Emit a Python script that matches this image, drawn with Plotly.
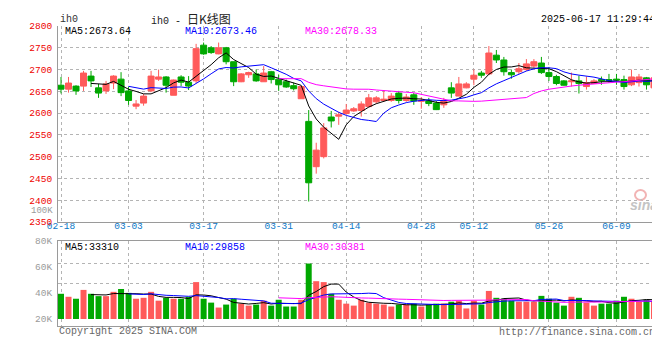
import plotly.graph_objects as go
import pandas as pd

# ---------------- data ----------------
DATES = [
    "02-18", "02-19", "02-20", "02-21", "02-24", "02-25", "02-26", "02-27", "02-28",
    "03-03", "03-04", "03-05", "03-06", "03-07", "03-10", "03-11", "03-12", "03-13", "03-14",
    "03-17", "03-18", "03-19", "03-20", "03-21", "03-24", "03-25", "03-26", "03-27", "03-28",
    "03-31", "04-01", "04-02", "04-03", "04-07", "04-08", "04-09", "04-10", "04-11",
    "04-14", "04-15", "04-16", "04-17", "04-18", "04-21", "04-22", "04-23", "04-24", "04-25",
    "04-28", "04-29", "04-30", "05-06", "05-07", "05-08", "05-09",
    "05-12", "05-13", "05-14", "05-15", "05-16", "05-19", "05-20", "05-21", "05-22", "05-23",
    "05-26", "05-27", "05-28", "05-29", "05-30", "06-03", "06-04", "06-05", "06-06",
    "06-09", "06-10", "06-11", "06-12", "06-13", "06-16",
]

OPEN = [2664, 2655, 2662, 2662, 2685, 2658, 2651, 2669, 2678, 2651,
        2616, 2623, 2651, 2678, 2683, 2641, 2683, 2671, 2674, 2756,
        2750, 2736, 2750, 2718, 2672, 2688, 2690, 2672, 2695, 2678,
        2672, 2663, 2633, 2581, 2477, 2500, 2591, 2593, 2599, 2605,
        2606, 2615, 2626, 2629, 2629, 2646, 2629, 2642, 2627, 2628,
        2623, 2619, 2658, 2639, 2658, 2678, 2692, 2690, 2733, 2722,
        2693, 2695, 2700, 2708, 2715, 2693, 2684, 2674, 2672, 2674,
        2661, 2668, 2677, 2677, 2678, 2677, 2665, 2670, 2681, 2658]
HIGH = [2683, 2683, 2664, 2697, 2697, 2667, 2674, 2687, 2694, 2660,
        2630, 2644, 2697, 2700, 2685, 2677, 2687, 2685, 2759, 2762,
        2754, 2762, 2752, 2718, 2692, 2695, 2700, 2708, 2697, 2688,
        2677, 2670, 2661, 2607, 2532, 2577, 2605, 2603, 2621, 2614,
        2627, 2644, 2639, 2653, 2646, 2651, 2644, 2646, 2637, 2635,
        2628, 2635, 2671, 2683, 2671, 2700, 2697, 2754, 2745, 2729,
        2700, 2715, 2724, 2724, 2729, 2706, 2688, 2676, 2693, 2686,
        2684, 2678, 2684, 2690, 2690, 2686, 2700, 2690, 2683, 2686]
LOW = [2645, 2647, 2642, 2651, 2660, 2635, 2644, 2655, 2639, 2619,
       2609, 2617, 2648, 2674, 2647, 2641, 2662, 2653, 2669, 2734,
       2736, 2735, 2712, 2662, 2671, 2681, 2672, 2672, 2668, 2651,
       2658, 2652, 2633, 2397, 2461, 2496, 2567, 2573, 2596, 2603,
       2592, 2613, 2622, 2626, 2626, 2622, 2626, 2619, 2610, 2616,
       2607, 2612, 2635, 2639, 2657, 2664, 2681, 2687, 2715, 2686,
       2679, 2690, 2697, 2704, 2690, 2674, 2664, 2663, 2661, 2645,
       2654, 2667, 2665, 2670, 2665, 2654, 2662, 2661, 2654, 2658]
CLOSE = [2655, 2669, 2651, 2692, 2674, 2646, 2667, 2685, 2647, 2629,
         2621, 2639, 2685, 2683, 2664, 2676, 2671, 2662, 2748, 2736,
         2739, 2750, 2718, 2672, 2690, 2693, 2674, 2692, 2677, 2665,
         2660, 2656, 2661, 2440, 2515, 2566, 2582, 2596, 2607, 2610,
         2621, 2635, 2635, 2632, 2639, 2629, 2637, 2628, 2629, 2622,
         2608, 2628, 2646, 2667, 2667, 2687, 2687, 2738, 2722, 2695,
         2688, 2702, 2713, 2718, 2693, 2684, 2668, 2664, 2674, 2668,
         2670, 2674, 2674, 2675, 2676, 2661, 2683, 2683, 2665, 2681]
VOLUME = [39400, 37100, 35600, 42400, 39400, 37600, 37600, 40900, 43100, 40100,
          35600, 36300, 40900, 34100, 36300, 35600, 35600, 37100, 48400, 35600,
          32600, 28800, 31100, 35600, 31800, 30300, 31100, 34100, 30300, 34800,
          29600, 29600, 34800, 62700, 49100, 48400, 39400, 34800, 31800, 30300,
          34800, 32600, 31800, 31100, 29600, 31100, 31100, 31800, 29600, 31100,
          31800, 31800, 33300, 34100, 28100, 34100, 31100, 41600, 36300, 35600,
          34100, 33300, 33300, 33300, 37800, 35600, 32600, 30300, 37100, 36300,
          32600, 30300, 31800, 31800, 34100, 37100, 35600, 33300, 34800, 33300]

TICK_LABELS = ["02-18", "03-03", "03-17", "03-31", "04-14", "04-28", "05-12", "05-26", "06-09"]
PRICE_TICKS = [2350, 2400, 2450, 2500, 2550, 2600, 2650, 2700, 2750, 2800]
VOL_TICKS = [20000, 40000, 60000, 80000]
VOL_TICK_TEXT = ["20K", "40K", "60K", "80K"]
VOL_BASE = 20000

MAIN_LEGEND = [("MA5:2673.64", "#000000"), ("MA10:2673.46", "#0000FF"), ("MA30:2678.33", "#FF00FF")]
VOL_LEGEND = [("MA5:33310", "#000000"), ("MA10:29858", "#0000FF"), ("MA30:30381", "#FF00FF")]

# ---------------- styling ----------------
RED = "#FF5A5A"
GREEN = "#00A800"
GRID = "#B4B4B4"
FRAME = "#9A9A9A"
MONO = "Liberation Mono, DejaVu Sans Mono, monospace"
MA_COLORS = {5: "#000000", 10: "#0000FF", 30: "#FF00FF"}

x = list(range(len(DATES)))
close_s = pd.Series(CLOSE, dtype=float)
vol_s = pd.Series(VOLUME, dtype=float)
tickvals = [DATES.index(t) for t in TICK_LABELS]

fig = go.Figure()

fig.add_trace(go.Candlestick(
    x=x, open=OPEN, high=HIGH, low=LOW, close=CLOSE,
    text=DATES, hoverinfo="text+y",
    increasing=dict(line=dict(color=RED, width=1), fillcolor=RED),
    decreasing=dict(line=dict(color=GREEN, width=1), fillcolor=GREEN),
    whiskerwidth=0, xaxis="x", yaxis="y", showlegend=False,
))
for n, c in MA_COLORS.items():
    fig.add_trace(go.Scatter(
        x=x, y=close_s.rolling(n).mean(), mode="lines",
        line=dict(color=c, width=1), xaxis="x", yaxis="y",
        hoverinfo="skip", showlegend=False,
    ))

bar_colors = [RED if c >= o else GREEN for o, c in zip(OPEN, CLOSE)]
fig.add_trace(go.Bar(
    x=x, y=[v - VOL_BASE for v in VOLUME], base=VOL_BASE,
    marker=dict(color=bar_colors, line=dict(width=0)),
    xaxis="x2", yaxis="y2", hoverinfo="skip", showlegend=False,
))
for n, c in MA_COLORS.items():
    fig.add_trace(go.Scatter(
        x=x, y=vol_s.rolling(n).mean(), mode="lines",
        line=dict(color=c, width=1), xaxis="x2", yaxis="y2",
        hoverinfo="skip", showlegend=False,
    ))

W, H = 660, 360
ML, MR, MT, MB = 50, 11, 18, 42
PW, PH = W - ML - MR, H - MT - MB


def px_x(px):
    return (px - ML) / PW


def px_y(py):
    return (H - MB - py) / PH


MAIN_DOMAIN = [px_y(214), 1.0]
VOL_DOMAIN = [0.0, px_y(233)]

fig.update_layout(
    width=W, height=H,
    margin=dict(l=ML, r=MR, t=MT, b=MB, pad=0),
    paper_bgcolor="white", plot_bgcolor="white",
    showlegend=False, bargap=0.2, boxgap=0.2, boxgroupgap=0,
    font=dict(family=MONO, size=10, color="#000"),
    xaxis=dict(
        domain=[0, 1], anchor="y", range=[-0.4, len(DATES) - 0.6],
        tickvals=tickvals, ticktext=TICK_LABELS, ticks="", ticklabelstandoff=-5,
        tickfont=dict(family=MONO, size=9.5, color="#0A78C8"),
        showgrid=True, gridcolor=GRID, griddash="dot", gridwidth=1,
        showline=True, linecolor=FRAME, linewidth=1, mirror=False,
        zeroline=False, rangeslider=dict(visible=False), fixedrange=True,
    ),
    yaxis=dict(
        domain=MAIN_DOMAIN, anchor="x", range=[2350, 2800],
        tickvals=PRICE_TICKS, ticks="", ticklabelstandoff=3,
        tickfont=dict(family=MONO, size=9.5, color="#EE0000"),
        showgrid=True, gridcolor=GRID, griddash="dot", gridwidth=1,
        showline=True, linecolor=FRAME, linewidth=1, mirror=True,
        zeroline=False, fixedrange=True,
    ),
    xaxis2=dict(
        domain=[0, 1], anchor="y2", matches="x", range=[-0.4, len(DATES) - 0.6],
        tickvals=tickvals, showticklabels=False, ticks="",
        showgrid=True, gridcolor=GRID, griddash="dot", gridwidth=1,
        showline=True, linecolor=FRAME, linewidth=1, mirror=True,
        zeroline=False, fixedrange=True,
    ),
    yaxis2=dict(
        domain=VOL_DOMAIN, anchor="x2", range=[14600, 80050],
        tickvals=VOL_TICKS, ticktext=VOL_TICK_TEXT, ticks="", ticklabelstandoff=3,
        tickfont=dict(family=MONO, size=9.5, color="#9A9A9A"),
        showgrid=False,
        showline=True, linecolor=FRAME, linewidth=1, mirror=True,
        zeroline=False, fixedrange=True,
    ),
)

# volume panel dotted grid lines
for py in (255.5, 275.5):
    f = (VOL_DOMAIN[1] - px_y(py)) / (VOL_DOMAIN[1] - VOL_DOMAIN[0])
    fig.add_shape(type="line", xref="x2 domain", yref="y2 domain",
                  x0=0, x1=1, y0=1 - f, y1=1 - f,
                  line=dict(color=GRID, width=1, dash="dot"), layer="below")

ann = []
# header texts
ann.append(dict(text="ih0", x=px_x(50), y=px_y(12), xanchor="left", yanchor="middle",
                font=dict(family=MONO, size=10, color="#333")))
ann.append(dict(text="ih0 - <span style='font-family:Noto Sans CJK SC;font-size:12px'>日K线图</span>",
                x=px_x(141), y=px_y(10), xanchor="left", yanchor="middle",
                font=dict(family=MONO, size=10, color="#222")))
ann.append(dict(text="2025-06-17 11:29:44", x=px_x(649), y=px_y(12), xanchor="right", yanchor="middle",
                font=dict(family=MONO, size=10, color="#000")))
# MA legends
for (txt, col), px in zip(MAIN_LEGEND, (55, 175, 295)):
    ann.append(dict(text=txt, x=px_x(px), y=px_y(23.5), xanchor="left", yanchor="middle",
                    font=dict(family=MONO, size=10, color=col)))
for (txt, col), px in zip(VOL_LEGEND, (55, 175, 295)):
    ann.append(dict(text=txt, x=px_x(px), y=px_y(239), xanchor="left", yanchor="middle",
                    font=dict(family=MONO, size=10, color=col)))
# footer
ann.append(dict(text="Copyright 2025 SINA.COM", x=px_x(49), y=px_y(323.5), xanchor="left", yanchor="middle",
                font=dict(family=MONO, size=10, color="#666")))
ann.append(dict(text="http://finance.sina.com.cn", x=px_x(649), y=px_y(324), xanchor="right", yanchor="middle",
                font=dict(family=MONO, size=10, color="#666")))
# stray volume scale label in price panel
ann.append(dict(text="100K", x=px_x(47), y=px_y(203), xanchor="right", yanchor="middle",
                font=dict(family=MONO, size=9, color="#9A9A9A")))
# sina watermark
ann.append(dict(text="<b><i>sina</i></b>", x=px_x(636), y=px_y(197), xanchor="center", yanchor="middle",
                font=dict(family="Liberation Sans, Arial", size=14, color="#C4C4C4")))
for a in ann:
    a.update(xref="paper", yref="paper", showarrow=False)
fig.update_layout(annotations=ann)
fig.add_shape(type="circle", xref="paper", yref="paper",
              x0=px_x(627), x1=px_x(638), y0=px_y(192), y1=px_y(182),
              line=dict(color="#F2B4B4", width=2))

fig.write_html("out.html")
